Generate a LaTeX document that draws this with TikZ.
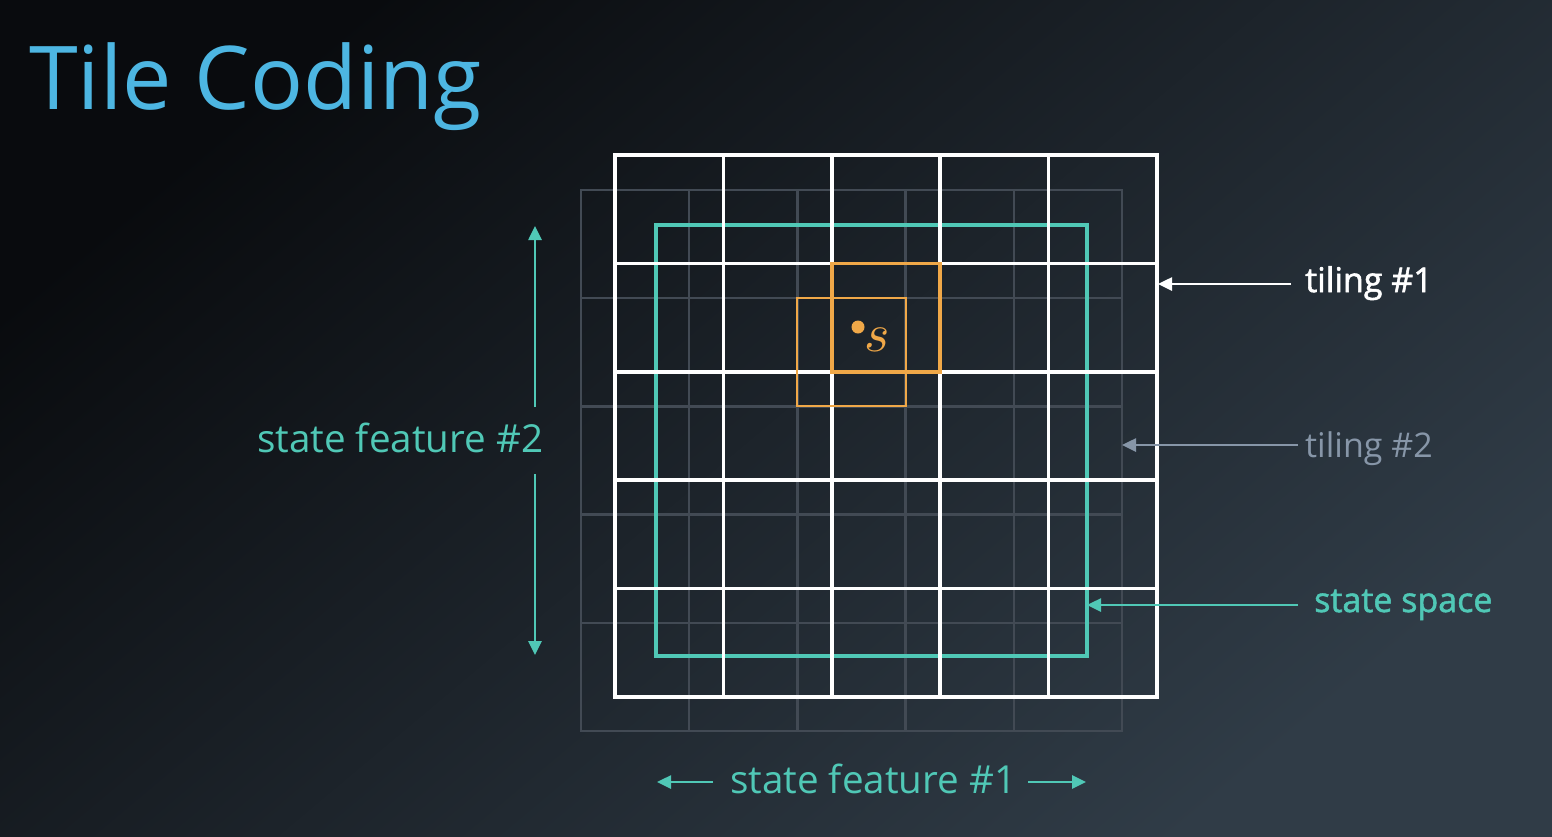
\documentclass[tikz,border=0pt]{standalone}
\usepackage{fontspec}
\setmainfont{Open Sans}
\newfontfamily\osemi[FakeBold=1.6]{Open Sans}
\usetikzlibrary{arrows.meta}
\definecolor{bgA}{RGB}{9,11,14}
\definecolor{bgB}{RGB}{48,60,71}
\definecolor{titleblue}{RGB}{77,182,226}
\definecolor{tealc}{RGB}{80,200,182}
\definecolor{graylab}{RGB}{135,150,168}
\definecolor{graygrid}{RGB}{66,74,84}
\definecolor{orangec}{RGB}{240,168,72}
\tikzset{
  whitegrid/.style={draw=white, line width=3.5pt, line cap=rect},
  graylines/.style={draw=graygrid, line width=2.5pt, line cap=rect},
  spacebox/.style={draw=tealc, line width=4pt},
  tileA/.style={draw=orangec, line width=3.5pt},
  tileB/.style={draw=orangec, line width=2pt},
  arr/.style={line width=2.6pt, -{Triangle[length=14pt,width=13pt]}},
  lab/.style={anchor=base west, inner sep=0pt},
}
\begin{document}
\begin{tikzpicture}[x=1pt,y=-1pt]
\useasboundingbox (0,0) rectangle (1552,836);
\shade[top color=bgA, bottom color=bgB, shading angle=40] (0,0) rectangle (1552,836);

% title
\node[lab, text=titleblue, font=\fontsize{88}{96}\selectfont] (title) at (29,109) {Tile Coding};

% tiling #2 (gray)
\foreach \v in {581,689.2,797.4,905.6,1013.8,1122} {
  \draw[graylines] (\v,190) -- (\v,731);
}
\foreach \v in {190,298.2,406.4,514.6,622.8,731} {
  \draw[graylines] (581,\v) -- (1122,\v);
}

% state space
\draw[spacebox] (656,225) rectangle (1087,656);

% tiling #1 (white)
\foreach \v in {615,723.4,831.8,940.2,1048.6,1157} {
  \draw[whitegrid] (\v,155) -- (\v,697);
}
\foreach \v in {155,263.4,371.8,480.2,588.6,697} {
  \draw[whitegrid] (615,\v) -- (1157,\v);
}

% active tiles
\draw[tileB] (797.4,298.2) rectangle (905.6,406.4);
\draw[tileA] (831.8,263.4) rectangle (940.2,371.8);
\fill[orangec] (858,327) circle (6.5);
\node[text=orangec, scale=5.4, inner sep=0pt] (s) at (877,340) {$s$};

% labels
\node[lab, text=white, font=\osemi\fontsize{34}{40}\selectfont] (t1) at (1305,292) {tiling \#1};
\node[lab, text=graylab, font=\fontsize{34}{40}\selectfont] (t2) at (1305,457) {tiling \#2};
\node[lab, text=tealc, font=\osemi\fontsize{34}{40}\selectfont] (ss) at (1314,612) {state space};
\node[lab, text=tealc, font=\fontsize{38.6}{44}\selectfont] (f2) at (257,452) {state feature \#2};
\node[lab, text=tealc, font=\fontsize{38.6}{44}\selectfont] (f1) at (730,793) {state feature \#1};

% connector end points
\coordinate (t1a) at (1291,284);  \coordinate (t1b) at (1158,284);
\coordinate (t2a) at (1298,445);  \coordinate (t2b) at (1122,445);
\coordinate (ssa) at (1298,605);  \coordinate (ssb) at (1087,605);
\coordinate (f2u) at (535,407);   \coordinate (f2ut) at (535,226);
\coordinate (f2d) at (535,474);   \coordinate (f2dt) at (535,655);
\coordinate (f1l) at (713,782);   \coordinate (f1lt) at (657,782);
\coordinate (f1r) at (1028,782);  \coordinate (f1rt) at (1086,782);

\draw[arr, white] (t1a) -- (t1b);
\draw[arr, graylab] (t2a) -- (t2b);
\draw[arr, tealc] (ssa) -- (ssb);
\draw[arr, tealc] (f2u) -- (f2ut);
\draw[arr, tealc] (f2d) -- (f2dt);
\draw[arr, tealc] (f1l) -- (f1lt);
\draw[arr, tealc] (f1r) -- (f1rt);
\end{tikzpicture}
\end{document}
